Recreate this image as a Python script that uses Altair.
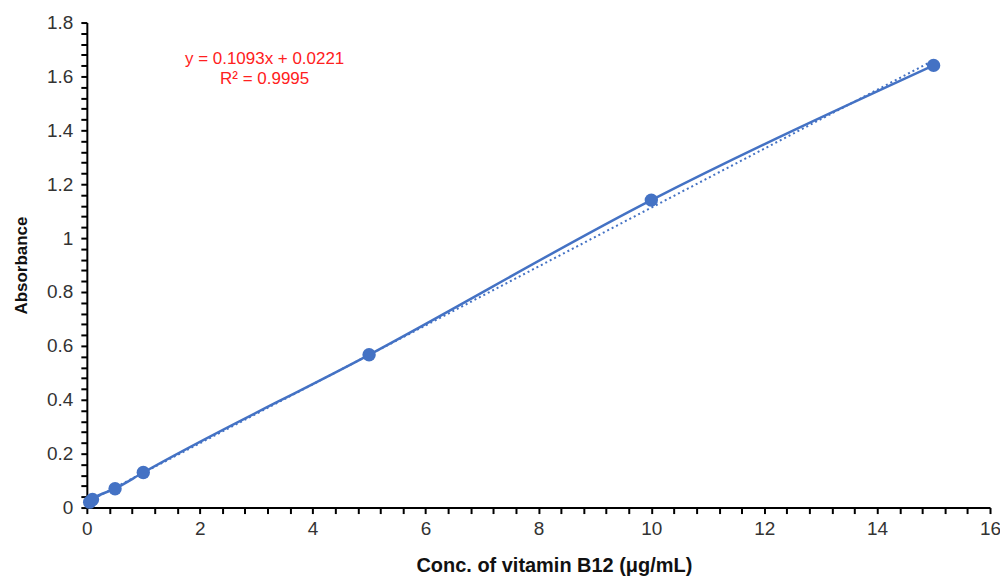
import altair as alt
import pandas as pd

conc = [0.05, 0.1, 0.5, 1, 5, 10, 15]
absorb = [0.02, 0.03, 0.07, 0.13, 0.567, 1.141, 1.641]

eq_lines = ["y = 0.1093x + 0.0221", "R² = 0.9995"]
eq_x = [3.15, 3.15]
eq_y = [1.665, 1.592]

df = pd.DataFrame({"conc": conc, "abs": absorb})
tdf = pd.DataFrame({"text": eq_lines, "x": eq_x, "y": eq_y})

blue = "#4472C4"
font = "Liberation Sans"

xticks = [round(i * 0.4, 2) for i in range(41)]
yticks = [round(i * 0.04, 2) for i in range(46)]

xscale = alt.Scale(domain=[0, 16], nice=False, zero=False)
yscale = alt.Scale(domain=[0, 1.8], nice=False, zero=False)

xaxis = alt.Axis(
    values=xticks, tickCount=200,
    labelExpr="(round(datum.value*10) % 20 == 0) ? '' + round(datum.value) : ''",
    title="Conc. of vitamin  B12 (μg/mL)",
    grid=False, domainColor="black", domainWidth=2, tickColor="black", tickWidth=2,
    tickSize=6, labelFont=font, labelFontSize=19, labelColor="#333",
    titleFont=font, titleFontSize=20, titleFontWeight="bold", titleColor="#111",
    labelPadding=6, titlePadding=17, labelFlush=False, labelOverlap=False,
    titleX=468,
)
yaxis = alt.Axis(
    values=yticks, tickCount=200,
    labelExpr="(round(datum.value*100) % 20 == 0) ? '' + round(datum.value*10)/10 : ''",
    title="Absorbance",
    grid=False, domainColor="black", domainWidth=2, tickColor="black", tickWidth=2,
    tickSize=6, labelFont=font, labelFontSize=19, labelColor="#333",
    titleFont=font, titleFontSize=17, titleFontWeight="bold", titleColor="#111",
    labelPadding=8, titlePadding=16, labelFlush=False, labelOverlap=False,
)

base = alt.Chart(df)

trend = base.transform_regression("conc", "abs", method="linear", extent=[0.05, 15]).mark_line(
    color=blue, strokeWidth=2, strokeDash=[2, 3]
).encode(
    x=alt.X("conc:Q", scale=xscale, axis=xaxis),
    y=alt.Y("abs:Q", scale=yscale, axis=yaxis),
)

line = base.mark_line(color=blue, strokeWidth=2.5, interpolate="monotone").encode(
    x=alt.X("conc:Q", scale=xscale, axis=xaxis),
    y=alt.Y("abs:Q", scale=yscale, axis=yaxis),
)

pts = base.mark_circle(color=blue, size=180, opacity=1).encode(
    x=alt.X("conc:Q", scale=xscale, axis=xaxis),
    y=alt.Y("abs:Q", scale=yscale, axis=yaxis),
)

txt = alt.Chart(tdf).mark_text(color="#FF2020", font=font, fontSize=17, align="center").encode(
    x=alt.X("x:Q", scale=xscale),
    y=alt.Y("y:Q", scale=yscale),
    text="text:N",
)

chart = (trend + line + pts + txt).properties(
    width=905, height=486,
    autosize=alt.AutoSizeParams(type="none"),
    padding={"left": 79, "top": 14, "right": 10, "bottom": 70},
).configure_view(stroke=None)

chart.save("out.html", embed_options={"renderer": "svg", "actions": False})
